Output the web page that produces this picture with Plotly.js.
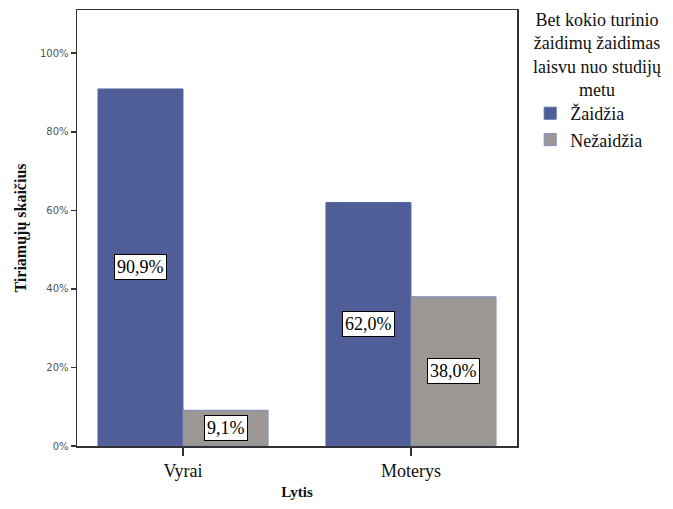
<!DOCTYPE html>
<html>
<head>
<meta charset="utf-8">
<script src="https://cdn.plot.ly/plotly-3.0.1.min.js"></script>
<style>
  html, body { margin: 0; padding: 0; background: #fff; }
  #chart { width: 673px; height: 509px; }
</style>
</head>
<body>
<div id="chart"></div>
<script>
// Share of respondents playing games of any kind in their free time, by sex
const categories = ['Vyrai', 'Moterys'];
const seriesNames = ['Žaidžia', 'Nežaidžia'];
const zaidzia = [90.9, 62.0];
const nezaidzia = [9.1, 38.0];
const yTicks = [0, 20, 40, 60, 80, 100];
const legendTitle = 'Bet kokio turinio<br>žaidimų žaidimas<br>laisvu nuo studijų<br>metu';

const serif = 'Liberation Serif, Times New Roman, serif';
const bargap = 0.254;
const colors = ['#4f5e98', '#9b9795'];
const outlines = ['#5a69a5', '#7f8cc4'];
const seriesValues = [zaidzia, nezaidzia];

const traces = seriesValues.map((vals, i) => ({
  type: 'bar',
  name: seriesNames[i],
  x: categories,
  y: vals,
  marker: { color: colors[i], line: { color: outlines[i], width: 1 } },
  hoverinfo: 'skip'
}));

// Boxed percentage labels centred in each bar
const fmt = v => v.toFixed(1).replace('.', ',') + '%';
const barW = (1 - bargap) / 2;
const annotations = [];
seriesValues.forEach((vals, i) => {
  const off = (i === 0 ? -1 : 1) * barW / 2;
  vals.forEach((v, j) => {
    annotations.push({
      x: j + off, y: v / 2, xref: 'x', yref: 'y',
      text: fmt(v), showarrow: false,
      font: { family: serif, size: 18, color: '#000' },
      bgcolor: '#fff', bordercolor: '#000', borderwidth: 1, borderpad: 2
    });
  });
});

// Centred multi-line legend heading
annotations.push({
  xref: 'paper', yref: 'paper', x: 1.182, y: 1.005,
  xanchor: 'center', yanchor: 'top', align: 'center',
  text: legendTitle, showarrow: false,
  font: { family: serif, size: 18, color: '#111' }
});

const layout = {
  width: 673, height: 509,
  margin: { l: 77, r: 156, t: 10, b: 63 },
  paper_bgcolor: '#fff', plot_bgcolor: '#fff',
  barmode: 'group', bargap: bargap, bargroupgap: 0,
  showlegend: true,
  font: { family: serif },
  xaxis: {
    type: 'category',
    range: [-0.465, 1.465],
    showline: true, linecolor: '#333', linewidth: 1.5, mirror: true,
    ticks: 'outside', ticklen: 8, tickcolor: '#333', tickwidth: 1.5,
    showgrid: false, zeroline: false,
    tickfont: { family: serif, size: 18, color: '#111' },
    title: { text: '<b>Lytis</b>', font: { family: serif, size: 15, color: '#111' }, standoff: 6 },
    fixedrange: true
  },
  yaxis: {
    range: [0, 111],
    tickvals: yTicks, ticktext: yTicks.map(t => t + '%'),
    showline: true, linecolor: '#333', linewidth: 1.5, mirror: true,
    ticks: 'outside', ticklen: 5, tickcolor: '#333', tickwidth: 1.5,
    showgrid: false, zeroline: false,
    tickfont: { family: 'DejaVu Sans, Verdana, sans-serif', size: 10, color: '#555' },
    title: { text: '<b>Tiriamųjų skaičius</b>', font: { family: serif, size: 16, color: '#111' }, standoff: 9 },
    fixedrange: true
  },
  legend: {
    x: 1.03, xanchor: 'left', y: 0.805, yanchor: 'top',
    bgcolor: 'rgba(0,0,0,0)',
    font: { family: serif, size: 18, color: '#111' },
    itemwidth: 30, tracegroupgap: 0
  },
  annotations: annotations
};

Plotly.newPlot('chart', traces, layout, { displayModeBar: false, staticPlot: true });
</script>
</body>
</html>
